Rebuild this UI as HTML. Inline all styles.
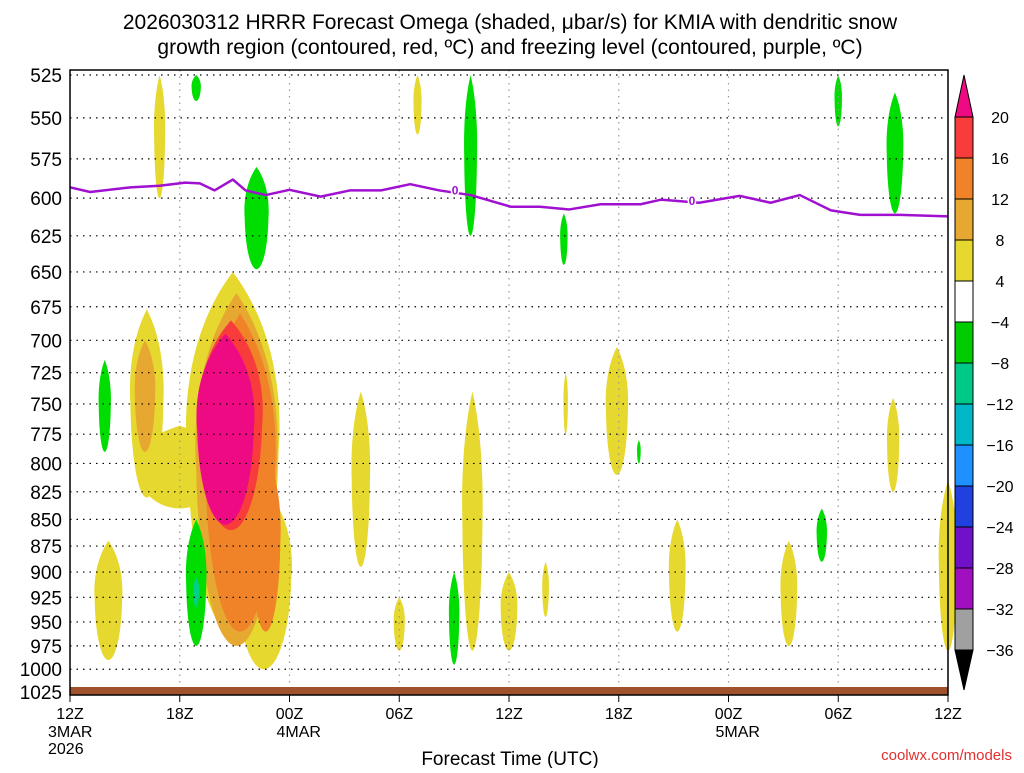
<!DOCTYPE html>
<html><head><meta charset="utf-8"><style>
body{margin:0;background:#fff;width:1024px;height:768px;overflow:hidden;font-family:"Liberation Sans",sans-serif}
svg text{font-family:"Liberation Sans",sans-serif}
</style></head><body>
<svg id="chart" width="1024" height="768" xmlns="http://www.w3.org/2000/svg">
<text x="510" y="29" font-size="21" text-anchor="middle" fill="#000">2026030312 HRRR Forecast Omega (shaded, μbar/s) for KMIA with dendritic snow</text>
<text x="510" y="54" font-size="21" text-anchor="middle" fill="#000">growth region (contoured, red, ºC) and freezing level (contoured, purple, ºC)</text>
<g id="shading"></g>
<g id="grid"></g>
<rect x="70" y="687" width="878" height="8" fill="#a0522d"/>
<g id="frz"></g>
<rect x="70" y="70" width="878" height="625" fill="none" stroke="#000" stroke-width="1.5"/>
<g id="axes"></g>
<g id="cbar"></g>
<text x="510" y="765" font-size="19" text-anchor="middle">Forecast Time (UTC)</text>
<text x="1012" y="760" font-size="15" text-anchor="end" fill="#e03030">coolwx.com/models</text>
</svg>
<script>
const pressureTicks=[525,550,575,600,625,650,675,700,725,750,775,800,825,850,875,900,925,950,975,1000,1025];
const timeTicks=[0,6,12,18,24,30,36,42,48];
const timeLabels=["12Z","18Z","00Z","06Z","12Z","18Z","00Z","06Z","12Z"];
const dateLabels=[[0,"3MAR"],[0,"2026"],[12,"4MAR"],[36,"5MAR"]];
const frzHours=[0,1.1,3.3,4.9,6.3,7.1,7.9,8.9,9.6,10.7,12,13.7,15.3,17,18.6,20.2,21.9,24.1,25.7,27.3,29,31.2,32.3,34.4,36.6,38.3,39.9,41.6,43.2,45.4,48];
const frzPres=[593,596,593,592,590,590.5,595,588,595,598,594.6,599,595,595,591,595,598,605.6,605.6,607.4,604,604,601,603,598.5,603,598,608,611,611,612];
const frzLabelHours=[21.05,34.0];
const frzLabelPres=[595,602];
const cbLevels=[20,16,12,8,4,-4,-8,-12,-16,-20,-24,-28,-32,-36];
const cbColors=["#f83c3c","#f08228","#e6a830","#e6d82e","#ffffff","#00cc00","#00c888","#00b8c8","#1e90ff","#2040e0","#7010c8","#a010c0","#a0a0a0"];
const blobHour=[4.2,6.0,8.9,10.6,2.1,4.1,9.1,9.3,10.7,8.8,8.5, 4.9,19,15.9,18,22,24,26,27.1,29.9,33.2,39.3,45,48, 1.9,6.9,10.2,6.9,21.9,21,27,31.1,41.1,42,45.1,6.9];
const blobTop=[677,768,650,820,870,700,665,680,790,685,695, 525,525,740,925,740,900,890,725,705,850,870,745,815, 715,525,580,850,525,900,610,780,840,525,535,905];
const blobBot=[830,840,960,1000,990,790,975,960,960,860,855, 600,560,895,980,980,980,945,775,810,960,975,825,980, 790,540,648,975,625,995,645,800,890,555,610,935];
const blobHW=[0.9,2.4,2.5,1.5,0.75,0.55,2.2,1.9,0.8,1.7,1.55, 0.3,0.22,0.5,0.3,0.55,0.45,0.18,0.12,0.6,0.45,0.45,0.33,0.5, 0.33,0.25,0.65,0.55,0.35,0.28,0.2,0.1,0.28,0.2,0.45,0.15];
const blobColor=["#e6d82e","#e6d82e","#e6d82e","#e6d82e","#e6d82e","#e6a830","#e6a830","#f08228","#f08228","#f83c3c","#ee0a82",
"#e6d82e","#e6d82e","#e6d82e","#e6d82e","#e6d82e","#e6d82e","#e6d82e","#e6d82e","#e6d82e","#e6d82e","#e6d82e","#e6d82e","#e6d82e",
"#00dd00","#00dd00","#00dd00","#00dd00","#00dd00","#00dd00","#00dd00","#00dd00","#00dd00","#00dd00","#00dd00","#00d08a"];

const NS="http://www.w3.org/2000/svg";
const X0=70,X1=948,Y0=75,Y1=692;
function xs(h){return X0+(X1-X0)*h/48;}
function ys(p){return Y0+(Y1-Y0)*Math.log(p/525)/Math.log(1025/525);}
function mk(t,a,parent){const e=document.createElementNS(NS,t);for(const k in a)e.setAttribute(k,a[k]);parent.appendChild(e);return e;}
const shade=document.getElementById('shading'),grid=document.getElementById('grid'),axes=document.getElementById('axes'),frz=document.getElementById('frz'),cb=document.getElementById('cbar');

for(let i=0;i<blobHour.length;i++){
  const cx=xs(blobHour[i]),t=ys(blobTop[i]),b=ys(blobBot[i]),w=(X1-X0)*blobHW[i]/48;
  const cy=(t+b)/2;
  const d=`M${cx},${t} C${cx+w*0.9},${t+(b-t)*0.15} ${cx+w*1.1},${t+(b-t)*0.35} ${cx+w},${cy} C${cx+w*0.95},${b-(b-t)*0.2} ${cx+w*0.5},${b} ${cx},${b} C${cx-w*0.5},${b} ${cx-w*0.95},${b-(b-t)*0.2} ${cx-w},${cy} C${cx-w*1.1},${t+(b-t)*0.35} ${cx-w*0.9},${t+(b-t)*0.15} ${cx},${t}Z`;
  const e=mk('path',{d:d,fill:blobColor[i]},shade);
  
  
}
pressureTicks.forEach(p=>{
  const y=ys(p);
  const l=mk('line',{x1:X0,x2:X1,y1:y,y2:y,stroke:'#000','stroke-width':1.2,'stroke-dasharray':'1.5,5'},grid);
  
  
  const t=mk('text',{x:62,y:y+7,'font-size':19,'text-anchor':'end'},axes);
  t.textContent=p;
  
  
});
timeTicks.forEach((h,i)=>{
  const x=xs(h);
  if(i>0&&i<timeTicks.length-1){
    const l=mk('line',{x1:x,x2:x,y1:70,y2:695,stroke:'#999','stroke-width':1.2,'stroke-dasharray':'1.5,5'},grid);
    
    
  }
  const tk=mk('line',{x1:x,x2:x,y1:695,y2:702,stroke:'#000'},axes);
  
  
  const t=mk('text',{x:x,y:719,'font-size':16,'text-anchor':'middle'},axes);
  t.textContent=timeLabels[i];
  
  
});
dateLabels.forEach((d,i)=>{
  const t=mk('text',{x:xs(d[0])-(d[0]===0?22:13),y:i===1?754:737,'font-size':16},axes);
  t.textContent=d[1];
  
  
});
const pts=frzHours.map((h,i)=>xs(h)+','+ys(frzPres[i])).join(' ');
const pl=mk('polyline',{points:pts,fill:'none',stroke:'#a010d0','stroke-width':2.5,'stroke-linejoin':'round'},frz);


frzLabelHours.forEach((h,i)=>{
  const t=mk('text',{x:xs(h),y:ys(frzLabelPres[i])+4,'font-size':12,'text-anchor':'middle',fill:'#a010d0',stroke:'#fff','stroke-width':3,'paint-order':'stroke','font-weight':'bold'},frz);
  t.textContent='0';
  
  
});
const cbx=955,cbw=18,cby0=117,cbdy=(650-117)/13;
const cbTop=mk('polygon',{points:`${cbx},${cby0} ${cbx+cbw},${cby0} ${cbx+cbw/2},75`,fill:'#ee0a82',stroke:'#000'},cb);


cbColors.forEach((c,i)=>{
  const r=mk('rect',{x:cbx,y:cby0+i*cbdy,width:cbw,height:cbdy,fill:c,stroke:'#000','stroke-width':1},cb);
  
  
});
const cbBot=mk('polygon',{points:`${cbx},650 ${cbx+cbw},650 ${cbx+cbw/2},690`,fill:'#000',stroke:'#000'},cb);


cbLevels.forEach((v,i)=>{
  const t=mk('text',{x:1000,y:cby0+i*cbdy+6,'font-size':16,'text-anchor':'middle'},cb);
  t.textContent=v<0?'\u2212'+(-v):v;
  
  
});
</script>
</body></html>
